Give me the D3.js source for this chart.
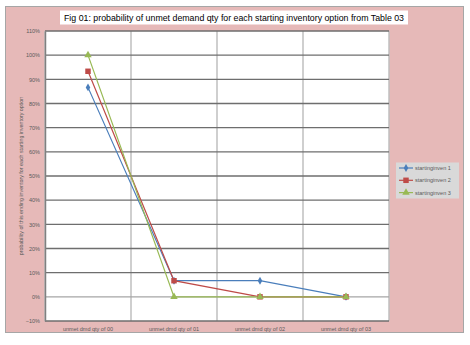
<!DOCTYPE html>
<html>
<head>
<meta charset="utf-8">
<script src="https://cdn.jsdelivr.net/npm/d3@7"></script>
<style>
  body { margin: 0; background: #fff; }
  text { font-family: "Liberation Sans", Arial, sans-serif; }
</style>
</head>
<body>
<script>
// chart data
var categories = ["unmet dmd qty of 00", "unmet dmd qty of 01", "unmet dmd qty of 02", "unmet dmd qty of 03"];
var seriesNames = ["startinginven 1", "startinginven 2", "startinginven 3"];
var inven1 = [0.8667, 0.0667, 0.0667, 0];
var inven2 = [0.9333, 0.0667, 0, 0];
var inven3 = [1.0, 0, 0, 0];
var yTicks = [-0.1, 0, 0.1, 0.2, 0.3, 0.4, 0.5, 0.6, 0.7, 0.8, 0.9, 1.0, 1.1];

var w = 470, h = 345;
var colors = ["#4A7EBB", "#BE4B48", "#98B954"];

var svg = d3.select("body").append("svg")
    .attr("width", w)
    .attr("height", h);

// outer chart area
svg.append("rect")
    .attr("x", 5.5).attr("y", 6.5)
    .attr("width", 458).attr("height", 326)
    .attr("fill", "#E6B9B8")
    .attr("stroke", "#A6A6A6");

var plot = { left: 45, right: 389, top: 31, bottom: 321 };

var xScale = d3.scaleBand()
    .domain(categories)
    .range([plot.left, plot.right]);

var yScale = d3.scaleLinear()
    .domain([-0.1, 1.1])
    .range([plot.bottom, plot.top]);

// plot area background
svg.append("rect")
    .attr("x", plot.left).attr("y", plot.top)
    .attr("width", plot.right - plot.left)
    .attr("height", plot.bottom - plot.top)
    .attr("fill", "#fff");

// vertical gridlines at category boundaries
var bounds = categories.map(function(c) { return xScale(c); }).concat([plot.right]);
svg.selectAll(".vgrid")
    .data(bounds)
    .enter().append("line")
    .attr("class", "vgrid")
    .attr("x1", function(d) { return d; })
    .attr("x2", function(d) { return d; })
    .attr("y1", plot.top).attr("y2", plot.bottom)
    .attr("stroke", "#BFBFBF")
    .attr("stroke-width", 1.5);

// horizontal gridlines
svg.selectAll(".hgrid")
    .data(yTicks)
    .enter().append("line")
    .attr("class", "hgrid")
    .attr("x1", plot.left).attr("x2", plot.right)
    .attr("y1", function(d) { return yScale(d); })
    .attr("y2", function(d) { return yScale(d); })
    .attr("stroke", function(d) { return Math.abs(d) < 1e-9 ? "#A6A6A6" : "#6E6E6E"; })
    .attr("stroke-width", 1.4);

// y axis
var yAxis = d3.axisLeft(yScale)
    .tickValues(yTicks)
    .tickFormat(d3.format(".0%"))
    .tickSize(0)
    .tickPadding(5);
var gy = svg.append("g")
    .attr("transform", "translate(" + plot.left + ",0)")
    .call(yAxis);
gy.select(".domain").attr("stroke", "#808080").attr("stroke-width", 1.5);
gy.selectAll("text")
    .attr("font-size", "5.5px")
    .attr("fill", "#595959")
    .style("font-family", "Liberation Sans, Arial, sans-serif");

// x axis labels
var xAxis = d3.axisBottom(xScale).tickSize(0).tickPadding(6);
var gx = svg.append("g")
    .attr("transform", "translate(0," + plot.bottom + ")")
    .call(xAxis);
gx.select(".domain").remove();
gx.selectAll("text")
    .attr("font-size", "5.5px")
    .attr("fill", "#595959")
    .style("font-family", "Liberation Sans, Arial, sans-serif");

// y axis title
svg.append("text")
    .attr("transform", "translate(23," + ((plot.top + plot.bottom) / 2) + ") rotate(-90)")
    .attr("text-anchor", "middle")
    .attr("font-size", "5.3px")
    .attr("fill", "#595959")
    .text("probability of this ending inventory for each starting inventory option");

// title
svg.append("rect")
    .attr("x", 60).attr("y", 10.5)
    .attr("width", 348).attr("height", 14)
    .attr("fill", "#fff");
svg.append("text")
    .attr("x", 234).attr("y", 21)
    .attr("text-anchor", "middle")
    .attr("font-size", "8.6px")
    .attr("fill", "#000")
    .attr("textLength", 340)
    .attr("lengthAdjust", "spacingAndGlyphs")
    .text("Fig 01: probability of unmet demand qty for each starting inventory option from Table 03");

// lines
var allSeries = [inven1, inven2, inven3];
var line = d3.line()
    .x(function(d, i) { return xScale(categories[i]) + xScale.bandwidth() / 2; })
    .y(function(d) { return yScale(d); });

svg.selectAll(".series")
    .data(allSeries)
    .enter().append("path")
    .attr("class", "series")
    .attr("d", line)
    .attr("fill", "none")
    .attr("stroke", function(d, i) { return colors[i]; })
    .attr("stroke-width", 1.2);

// markers
var symbols = [d3.symbolDiamond, d3.symbolSquare, d3.symbolTriangle];
var sizes = [18, 30, 24];
allSeries.forEach(function(s, si) {
    svg.selectAll(".m" + si)
        .data(s)
        .enter().append("path")
        .attr("class", "m" + si)
        .attr("d", d3.symbol().type(symbols[si]).size(sizes[si]))
        .attr("transform", function(d, i) {
            return "translate(" + (xScale(categories[i]) + xScale.bandwidth() / 2) + "," + yScale(d) + ")";
        })
        .attr("fill", colors[si]);
});

// legend
var legend = svg.append("g");
legend.append("rect")
    .attr("x", 396).attr("y", 162.5)
    .attr("width", 63).attr("height", 36)
    .attr("fill", "#D9D9D9");
seriesNames.forEach(function(name, i) {
    var ly = 168 + i * 12.3;
    legend.append("line")
        .attr("x1", 399).attr("x2", 413)
        .attr("y1", ly).attr("y2", ly)
        .attr("stroke", colors[i])
        .attr("stroke-width", 1.2);
    legend.append("path")
        .attr("d", d3.symbol().type(symbols[i]).size(sizes[i]))
        .attr("transform", "translate(406," + ly + ")")
        .attr("fill", colors[i]);
    legend.append("text")
        .attr("x", 415).attr("y", ly + 2)
        .attr("font-size", "5.5px")
        .attr("fill", "#595959")
        .text(name);
});
</script>
</body>
</html>
